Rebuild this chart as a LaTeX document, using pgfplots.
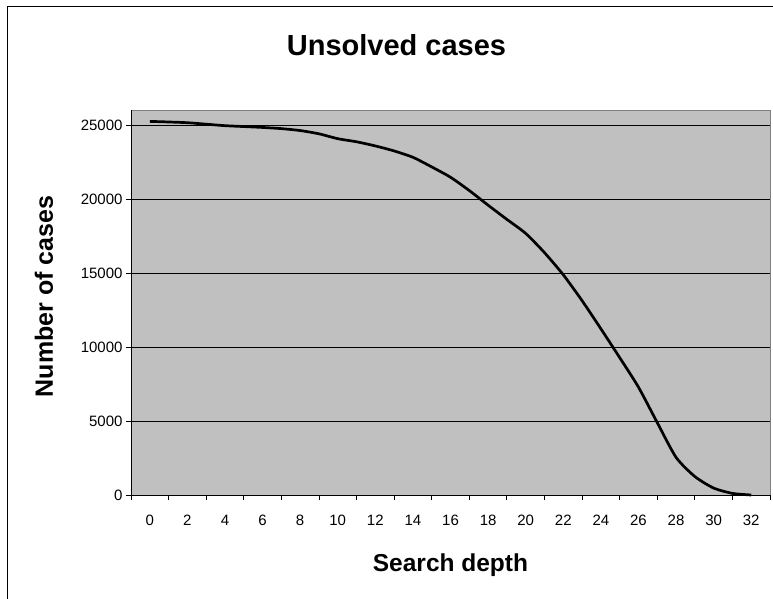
\documentclass[border=0pt]{standalone}
\usepackage{pgfplots}
\pgfplotsset{compat=1.18}
\usepackage{fontspec}
\setmainfont{Liberation Sans}
\definecolor{plotgray}{HTML}{C0C0C0}
\definecolor{bordergray}{HTML}{808080}
\begin{document}
\begin{tikzpicture}
\useasboundingbox (-131pt,-103pt) rectangle (642pt,495pt);
\draw[line width=1.2pt] (-123.7pt,-110pt) -- (-123.7pt,488.7pt) -- (650pt,488.7pt);
\begin{axis}[
  at={(0pt,0pt)}, anchor=south west,
  scale only axis, width=639pt, height=385pt,
  xmin=-1, xmax=33, ymin=0, ymax=26050,
  axis background/.style={fill=plotgray, draw=bordergray, line width=0.8pt},
  axis lines*=left,
  axis line style={black, line width=0.8pt},
  tick align=outside, tick pos=left,
  xtick={0,2,...,32},
  minor xtick={-1,1,...,33},
  major x tick style={draw=none},
  minor tick length=5pt, major tick length=5pt,
  every tick/.style={black, line width=0.8pt},
  ytick={0,5000,...,25000},
  ymajorgrids, major grid style={black, line width=0.8pt},
  scaled y ticks=false,
  /pgf/number format/assume math mode=true,
  yticklabel style={/pgf/number format/fixed, /pgf/number format/1000 sep={}},
  xticklabel style={anchor=base, yshift=-25pt},
  tick label style={font=\fontsize{15}{18}\selectfont},
  title={Unsolved cases},
  title style={font=\fontsize{29}{34}\selectfont\bfseries, at={(axis description cs:0.4155,1.125)}, anchor=base},
  xlabel={Search depth},
  xlabel style={font=\fontsize{24.5}{29}\selectfont\bfseries, at={(axis description cs:0.5,-0.199)}, anchor=base},
  ylabel={Number of cases},
  ylabel style={font=\fontsize{25}{30}\selectfont\bfseries, at={(axis description cs:-0.1221,0.5156)}, anchor=base, rotate=0},
  clip=false,
]
\addplot[smooth, tension=0.4, black, line width=2.7pt] coordinates {
(0,25280) (1,25240) (2,25190) (3,25090) (4,24990) (5,24930) (6,24870) (7,24790)
(8,24660) (9,24440) (10,24110) (11,23900) (12,23620) (13,23280) (14,22850)
(15,22200) (16,21500) (17,20600) (18,19610) (19,18650) (20,17700) (21,16400)
(22,14900) (23,13150) (24,11250) (25,9300) (26,7300) (27,4900) (28,2550)
(29,1250) (30,470) (31,110) (32,0)
};
\end{axis}
\end{tikzpicture}
\end{document}
